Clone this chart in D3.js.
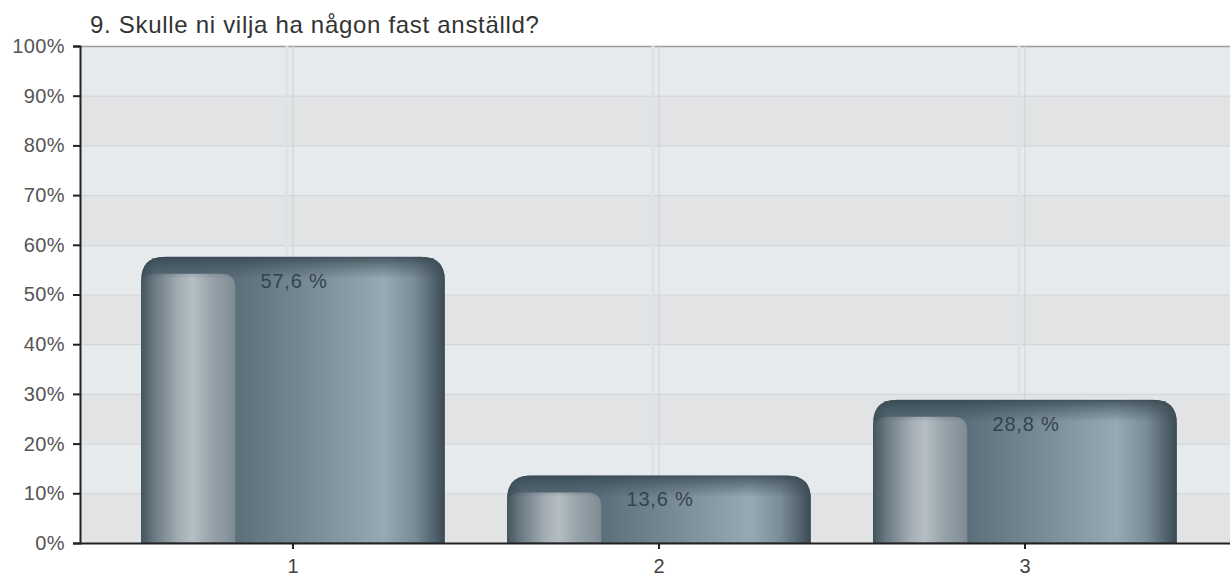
<!DOCTYPE html>
<html><head><meta charset="utf-8">
<script src="https://cdn.jsdelivr.net/npm/d3@7"></script>
<style>body{margin:0;background:#fff;}svg{display:block;font-family:"Liberation Sans",Arial,sans-serif;}</style>
</head><body>
<svg id="c" width="1230" height="581"></svg>
<script>
const title = "9. Skulle ni vilja ha någon fast anställd?";
const categories = ["1", "2", "3"];
const values = [57.6, 13.6, 28.8];
const valueLabels = ["57,6 %", "13,6 %", "28,8 %"];
const yTicks = [0, 10, 20, 30, 40, 50, 60, 70, 80, 90, 100];

const svg = d3.select("#c");
const plotLeft = 80, plotRight = 1230, plotTop = 46, plotBottom = 543;

const y = d3.scaleLinear().domain([0, 100]).range([plotBottom, plotTop]);
const x = d3.scaleBand().domain(categories).range([110, 1208]).paddingInner(0.17).paddingOuter(0.085);

const defs = svg.append("defs");
function grad(id, stops, vertical) {
  const g = defs.append("linearGradient").attr("id", id)
    .attr("x1", 0).attr("y1", 0).attr("x2", vertical ? 0 : 1).attr("y2", vertical ? 1 : 0);
  stops.forEach(s => g.append("stop").attr("offset", s[0]).attr("stop-color", s[1]).attr("stop-opacity", s[2] == null ? 1 : s[2]));
}
grad("body", [[0, "#3f505a"], [0.05, "#556873"], [0.31, "#5b6f7a"], [0.55, "#788b95"], [0.8, "#97aab4"], [0.9, "#7a8c96"], [0.97, "#4e5f69"], [1, "#3b4a54"]]);
grad("panel", [[0, "#44555f"], [0.15, "#6c7b84"], [0.4, "#a3adb4"], [0.55, "#b6bec5"], [0.75, "#97a2a9"], [0.9, "#8a969e"], [1, "#7d8a92"]]);
grad("rim", [[0, "#33444e", 0.8], [0.5, "#3a4b55", 0.4], [1, "#3a4b55", 0]], true);

// background bands
const bands = svg.append("g");
for (let i = 0; i < 10; i++) {
  bands.append("rect")
    .attr("x", plotLeft).attr("width", plotRight - plotLeft)
    .attr("y", y((i + 1) * 10)).attr("height", y(i * 10) - y((i + 1) * 10))
    .attr("fill", (9 - i) % 2 === 0 ? "#e7eaed" : "#e2e3e5");
}
// horizontal grid
svg.append("g").selectAll("line").data(yTicks.slice(1, -1)).join("line")
  .attr("x1", plotLeft).attr("x2", plotRight)
  .attr("y1", d => y(d) + 0.5).attr("y2", d => y(d) + 0.5)
  .attr("stroke", "#d3d5d8").attr("stroke-width", 1.2);
// top border
svg.append("line").attr("x1", plotLeft).attr("x2", plotRight)
  .attr("y1", plotTop + 0.5).attr("y2", plotTop + 0.5).attr("stroke", "#9a9c9e").attr("stroke-width", 1.5);
// vertical grid
const vg = svg.append("g");
categories.forEach(c => {
  const cx = x(c) + x.bandwidth() / 2;
  vg.append("line").attr("x1", cx - 6).attr("x2", cx - 6).attr("y1", plotTop).attr("y2", plotBottom)
    .attr("stroke", "#dfe2e5").attr("stroke-width", 3);
  vg.append("line").attr("x1", cx).attr("x2", cx).attr("y1", plotTop).attr("y2", plotBottom)
    .attr("stroke", "#cdd1d4").attr("stroke-width", 1);
});

// bars
function topRounded(x0, y0, w, h, r) {
  r = Math.min(r, h, w / 2);
  return `M${x0},${y0 + h}V${y0 + r}Q${x0},${y0} ${x0 + r},${y0}H${x0 + w - r}Q${x0 + w},${y0} ${x0 + w},${y0 + r}V${y0 + h}Z`;
}
const barG = svg.append("g");
categories.forEach((c, i) => {
  const bx = x(c), bw = x.bandwidth(), by = y(values[i]), bh = plotBottom - by;
  const clipId = "clip" + i;
  defs.append("clipPath").attr("id", clipId).append("path").attr("d", topRounded(bx, by, bw, bh, 24));
  const g = barG.append("g").attr("clip-path", `url(#${clipId})`);
  g.append("rect").attr("x", bx).attr("y", by).attr("width", bw).attr("height", bh).attr("fill", "url(#body)");
  g.append("path").attr("d", topRounded(bx, by + 17, bw * 0.31, bh - 17, 14)).attr("fill", "url(#panel)");
  g.append("rect").attr("x", bx).attr("y", by).attr("width", bw).attr("height", 22).attr("fill", "url(#rim)");
  g.append("path").attr("d", topRounded(bx, by, bw, bh, 24)).attr("fill", "none")
    .attr("stroke", "#3d4d57").attr("stroke-width", 1.5).attr("stroke-opacity", 0.6);
  svg.append("text").attr("x", bx + bw / 2 + 1).attr("y", by + 31)
    .attr("text-anchor", "middle").attr("font-size", 20).attr("letter-spacing", 0.8).attr("fill", "#34434e")
    .text(valueLabels[i]);
});

// axes
const yAxis = svg.append("g").attr("transform", `translate(${plotLeft},0)`)
  .call(d3.axisLeft(y).tickValues(yTicks).tickFormat(d => d + "%").tickSize(7).tickPadding(8));
yAxis.select(".domain").attr("stroke", "#222").attr("stroke-width", 2);
yAxis.selectAll(".tick line").attr("stroke", "#222").attr("stroke-width", 2);
yAxis.selectAll("text").attr("font-size", 20).attr("letter-spacing", 0.4).attr("fill", "#555").attr("font-family", "Liberation Sans, Arial, sans-serif");

const xAxis = svg.append("g").attr("transform", `translate(0,${plotBottom})`)
  .call(d3.axisBottom(x).tickSize(6).tickPadding(10).tickSizeOuter(0));
xAxis.select(".domain").attr("d", `M${plotLeft},0.5H${plotRight}`).attr("stroke", "#222").attr("stroke-width", 2);
xAxis.selectAll(".tick line").attr("stroke", "#222").attr("stroke-width", 2);
xAxis.selectAll("text").attr("font-size", 20).attr("fill", "#444").attr("font-family", "Liberation Sans, Arial, sans-serif");

svg.append("text").attr("x", 90).attr("y", 33).attr("font-size", 24).attr("letter-spacing", 0.7).attr("fill", "#333").text(title);
</script>
</body></html>
